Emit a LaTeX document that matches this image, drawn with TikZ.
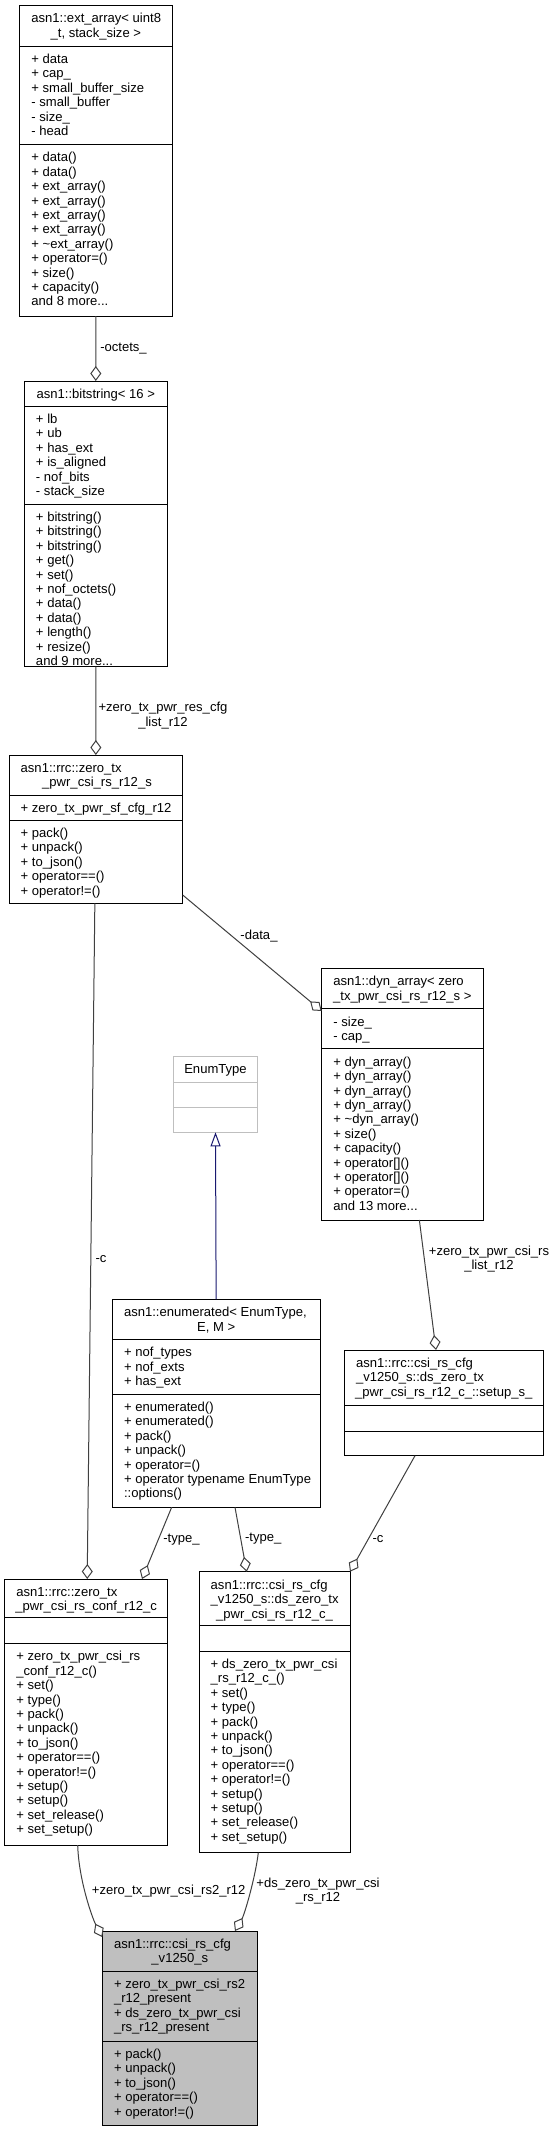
\documentclass[tikz,border=0pt]{standalone}
\usepackage{fontspec}
\setmainfont{Liberation Sans}
\usetikzlibrary{arrows.meta,calc}
\definecolor{edgec}{HTML}{404040}
\definecolor{inhc}{RGB}{25,25,112}
\definecolor{mainfill}{HTML}{BFBFBF}
\definecolor{lightb}{HTML}{BFBFBF}
\tikzset{
  cbox/.style={draw=black, line width=0.75pt, inner sep=0pt, outer sep=0pt, fill=white},
  sepl/.style={draw=black, line width=0.75pt},
  mtext/.style={anchor=north west, inner sep=0pt, outer sep=0pt, align=left, font=\fontsize{9.8pt}{10.8pt}\selectfont},
  ctext/.style={anchor=base, inner sep=0pt, outer sep=0pt, font=\fontsize{9.8pt}{10.8pt}\selectfont},
  elabel/.style={anchor=center, inner sep=0pt, outer sep=0pt, align=center, font=\fontsize{9.8pt}{10.8pt}\selectfont},
  agg/.style={draw=edgec, line width=0.75pt, -{Diamond[open,length=11.25pt,width=8.25pt]}},
  inh/.style={draw=inhc, line width=0.75pt, -{Triangle[open,length=10.5pt,width=7.5pt]}},
}
% name l t r b s1 s2
\newcommand\cls[8][]{%
  \node[cbox,#1, minimum width={(#5-#3)*0.75pt}, minimum height={(#6-#4)*0.75pt}] (#2) at ({(#3+#5)/2},{(#4+#6)/2}) {};
  \draw[sepl,#1] (#3,#7) -- (#5,#7);
  \draw[sepl,#1] (#3,#8) -- (#5,#8);
}
\newcommand\tb[4]{\node[mtext] (#1) at (#2,{#3-10.667}) {\rule{0pt}{8pt}#4};}
\newcommand\tcl[4]{\node[ctext] (#1) at (#2,#3) {#4};}
\begin{document}
\begin{tikzpicture}[x=0.75pt,y=-0.75pt]
\fill[white] (0,0) rectangle (556,2131);
\useasboundingbox (0,0) rectangle (556,2131);

% ext_array
\cls{ext}{19.7}{5.3}{172}{316}{46}{144.3}
\tb{ext-t1}{31.4}{22.8}{asn1::ext\_array< uint8}
\tcl{ext-t2}{95.85}{37.2}{\_t, stack\_size >}
\tb{ext-a}{31.4}{63.5}{+ data\\+ cap\_\\+ small\_buffer\_size\\- small\_buffer\\- size\_\\- head}
\tb{ext-m}{31.4}{161.8}{+ data()\\+ data()\\+ ext\_array()\\+ ext\_array()\\+ ext\_array()\\+ ext\_array()\\+ \textasciitilde ext\_array()\\+ operator=()\\+ size()\\+ capacity()\\and 8 more...}

% bitstring
\cls{bits}{24.3}{381}{167.3}{666.7}{406}{504}
\tcl{bits-t}{95.8}{398.5}{asn1::bitstring< 16 >}
\tb{bits-a}{36}{423.5}{+ lb\\+ ub\\+ has\_ext\\+ is\_aligned\\- nof\_bits\\- stack\_size}
\tb{bits-m}{36}{521.5}{+ bitstring()\\+ bitstring()\\+ bitstring()\\+ get()\\+ set()\\+ nof\_octets()\\+ data()\\+ data()\\+ length()\\+ resize()\\and 9 more...}

% zero_tx_pwr_csi_rs_r12_s
\cls{r12s}{9}{755}{182.7}{903.3}{795}{820}
\tb{r12s-t1}{20.7}{772.5}{asn1::rrc::zero\_tx}
\tcl{r12s-t2}{97}{786.9}{\_pwr\_csi\_rs\_r12\_s}
\tb{r12s-a}{20.7}{812.5}{+ zero\_tx\_pwr\_sf\_cfg\_r12}
\tb{r12s-m}{20.7}{837.5}{+ pack()\\+ unpack()\\+ to\_json()\\+ operator==()\\+ operator!=()}

% dyn_array
\cls{dyn}{321.7}{968.3}{483}{1220}{1008.7}{1048.7}
\tb{dyn-t1}{333.4}{985.8}{asn1::dyn\_array< zero}
\tcl{dyn-t2}{402.35}{1000.2}{\_tx\_pwr\_csi\_rs\_r12\_s >}
\tb{dyn-a}{333.4}{1026.2}{- size\_\\- cap\_}
\tb{dyn-m}{333.4}{1066.2}{+ dyn\_array()\\+ dyn\_array()\\+ dyn\_array()\\+ dyn\_array()\\+ \textasciitilde dyn\_array()\\+ size()\\+ capacity()\\+ operator[]()\\+ operator[]()\\+ operator=()\\and 13 more...}

% EnumType
\cls[draw=lightb]{enumT}{173.3}{1056}{257.7}{1132.3}{1082}{1107.3}
\tcl{enumT-t}{215.5}{1073.5}{EnumType}

% enumerated
\cls{enumd}{112.3}{1299.3}{320}{1507.3}{1339.3}{1394}
\tb{enumd-t1}{124}{1316.8}{asn1::enumerated< EnumType,}
\tcl{enumd-t2}{216.15}{1331.2}{E, M >}
\tb{enumd-a}{124}{1356.8}{+ nof\_types\\+ nof\_exts\\+ has\_ext}
\tb{enumd-m}{124}{1411.5}{+ enumerated()\\+ enumerated()\\+ pack()\\+ unpack()\\+ operator=()\\+ operator typename EnumType\\::options()}

% setup_s_
\cls{setup}{344.3}{1350}{543.3}{1455.7}{1405}{1431}
\tb{setup-t1}{356}{1367.5}{asn1::rrc::csi\_rs\_cfg\\\_v1250\_s::ds\_zero\_tx}
\tcl{setup-t2}{443.8}{1396.3}{\_pwr\_csi\_rs\_r12\_c\_::setup\_s\_}

% zero_tx_pwr_csi_rs_conf_r12_c
\cls{conf}{4.7}{1579}{167.7}{1845}{1617.3}{1643.3}
\tb{conf-t1}{16.4}{1596.5}{asn1::rrc::zero\_tx}
\tcl{conf-t2}{86.2}{1610.9}{\_pwr\_csi\_rs\_conf\_r12\_c}
\tb{conf-m}{16.4}{1660.8}{+ zero\_tx\_pwr\_csi\_rs\\\_conf\_r12\_c()\\+ set()\\+ type()\\+ pack()\\+ unpack()\\+ to\_json()\\+ operator==()\\+ operator!=()\\+ setup()\\+ setup()\\+ set\_release()\\+ set\_setup()}

% ds_zero_tx_pwr_csi_rs_r12_c_
\cls{dsz}{199}{1571.7}{350}{1852.7}{1625.7}{1651}
\tb{dsz-t1}{210.7}{1589.2}{asn1::rrc::csi\_rs\_cfg\\\_v1250\_s::ds\_zero\_tx}
\tcl{dsz-t2}{274.5}{1618}{\_pwr\_csi\_rs\_r12\_c\_}
\tb{dsz-m}{210.7}{1668.5}{+ ds\_zero\_tx\_pwr\_csi\\\_rs\_r12\_c\_()\\+ set()\\+ type()\\+ pack()\\+ unpack()\\+ to\_json()\\+ operator==()\\+ operator!=()\\+ setup()\\+ setup()\\+ set\_release()\\+ set\_setup()}

% main
\cls[fill=mainfill]{main}{102.3}{1931}{257.3}{2125}{1971}{2041}
\tb{main-t1}{114}{1948.5}{asn1::rrc::csi\_rs\_cfg}
\tcl{main-t2}{179.8}{1962.9}{\_v1250\_s}
\tb{main-a}{114}{1988.5}{+ zero\_tx\_pwr\_csi\_rs2\\\_r12\_present\\+ ds\_zero\_tx\_pwr\_csi\\\_rs\_r12\_present}
\tb{main-m}{114}{2058.5}{+ pack()\\+ unpack()\\+ to\_json()\\+ operator==()\\+ operator!=()}

% edges
\draw[agg] (ext.south) -- (bits.north);
\draw[agg] (bits.south) -- (r12s.north);
\draw[agg] ($(r12s.south east)+(0,-8.3)$) -- ($(dyn.north west)+(0,42.7)$);
\draw[agg] ($(r12s.south)+(-1,0)$) -- ($(conf.north)+(1,0)$);
\draw[agg] ($(dyn.south)+(17,0)$) -- ($(setup.north)+(-7.8,0)$);
\draw[inh] (enumd.north) -- (enumT.south);
\draw[agg] ($(enumd.south)+(-44.5,0)$) -- ($(conf.north)+(55.8,0)$);
\draw[agg] ($(enumd.south)+(18.85,0)$) -- ($(dsz.north)+(-27.8,0)$);
\draw[agg] ($(setup.south)+(-28.8,0)$) -- (dsz.north east);
\draw[agg] ($(conf.south)+(-8.5,0)$) .. controls ($(conf.south)+(-7.5,35)$) and ($(main.north west)+(-10,-13)$) .. ($(main.north west)+(0,6)$);
\draw[agg] ($(dsz.south)+(-16.2,0)$) .. controls ($(dsz.south)+(-19.2,25)$) and ($(main.north)+(64.8,-16.8)$) .. ($(main.north)+(55.2,0)$);

% labels
\node[elabel] (l-octets) at (123.5,349) {-octets\_};
\node[elabel] (l-rescfg) at (163,715.5) {+zero\_tx\_pwr\_res\_cfg\\\_list\_r12};
\node[elabel] (l-data) at (259,936) {-data\_};
\node[elabel] (l-c1) at (101,1259) {-c};
\node[elabel] (l-csilist) at (489,1259.3) {+zero\_tx\_pwr\_csi\_rs\\\_list\_r12};
\node[elabel] (l-type1) at (181.5,1539.3) {-type\_};
\node[elabel] (l-type2) at (263.3,1539) {-type\_};
\node[elabel] (l-c2) at (378,1539) {-c};
\node[elabel] (l-rs2) at (168.7,1890.7) {+zero\_tx\_pwr\_csi\_rs2\_r12};
\node[elabel] (l-dsr12) at (318,1891.3) {+ds\_zero\_tx\_pwr\_csi\\\_rs\_r12};
\end{tikzpicture}
\end{document}
